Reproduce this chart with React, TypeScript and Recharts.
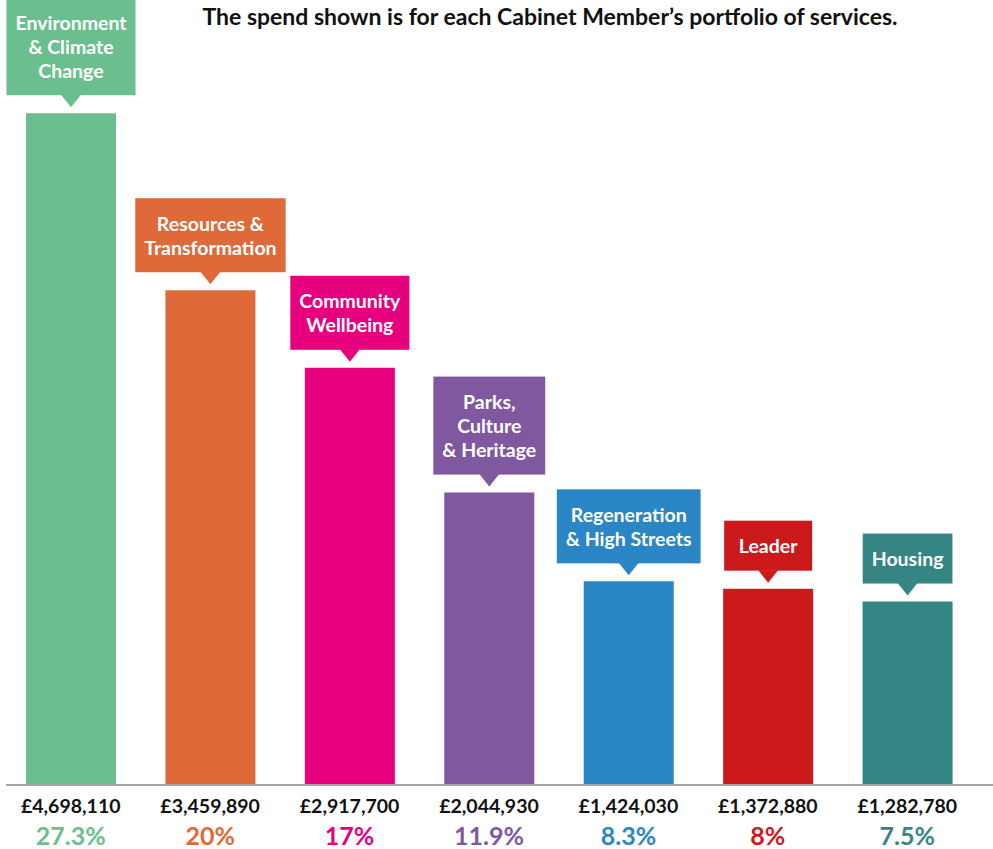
import React from 'react';
import { BarChart, Bar, XAxis, YAxis, Cell, LabelList } from 'recharts';

// portfolio names (line breaks as in the callouts)
const portfolios = [
  'Environment\n& Climate\nChange',
  'Resources &\nTransformation',
  'Community\nWellbeing',
  'Parks,\nCulture\n& Heritage',
  'Regeneration\n& High Streets',
  'Leader',
  'Housing',
];
const spend = [4698110, 3459890, 2917700, 2044930, 1424030, 1372880, 1282780];
const shares = ['27.3%', '20%', '17%', '11.9%', '8.3%', '8%', '7.5%'];
const colors = ['#6bbf8e', '#e0693a', '#e6007e', '#7f58a0', '#2a86c4', '#cc1a1c', '#358585'];

const data = portfolios.map((name, i) => ({ name, spend: spend[i] }));

const FONT = 'Lato, "Open Sans", sans-serif';
const LABEL_SIZE = 19.5;

let ctx: CanvasRenderingContext2D | null = null;
const measure = (s: string) => {
  if (!ctx) ctx = document.createElement('canvas').getContext('2d');
  if (!ctx) return s.length * 9.5;
  ctx.font = `700 ${LABEL_SIZE}px Lato`;
  return ctx.measureText(s).width;
};

const fmt = (v: number) => '£' + v.toLocaleString('en-GB');

const Callout = (props: any) => {
  const x = props.x ?? props.viewBox?.x;
  const y = props.y ?? props.viewBox?.y;
  const width = props.width ?? props.viewBox?.width;
  const index = props.index;
  const lines = portfolios[index].split('\n');
  const cx = x + width / 2;
  const boxW = Math.max(Math.max(...lines.map(measure)) + 18, 88);
  const boxH = lines.length * 24 + 26;
  const bottom = y - 18;
  const top = bottom - boxH;
  const color = colors[index];
  const midY = top + boxH / 2;
  return (
    <g>
      <rect x={cx - boxW / 2} y={top} width={boxW} height={boxH} fill={color} />
      <path d={`M${cx - 10},${bottom - 0.5} L${cx + 10},${bottom - 0.5} L${cx},${y - 6} Z`} fill={color} />
      {lines.map((l, i) => (
        <text
          key={i}
          x={cx}
          y={midY + (i - (lines.length - 1) / 2) * 24}
          textAnchor="middle"
          dominantBaseline="central"
          fill="#fff"
          fontFamily={FONT}
          fontWeight={700}
          fontSize={LABEL_SIZE}
        >
          {l}
        </text>
      ))}
    </g>
  );
};

const AmountTick = (props: any) => {
  const { x, y, payload } = props;
  const i = payload.index;
  return (
    <g>
      <text x={x} y={y + 28} textAnchor="middle" fill="#111" fontFamily={FONT} fontWeight={700} fontSize={19.5}>
        {fmt(spend[i])}
      </text>
      <text x={x} y={y + 60} textAnchor="middle" fill={colors[i]} fontFamily={FONT} fontWeight={700} fontSize={25}>
        {shares[i]}
      </text>
    </g>
  );
};

export default function App() {
  return (
    <div style={{ position: 'absolute', left: 0, top: 0, width: 993, height: 849, background: '#fff' }}>
      <div
        style={{
          position: 'absolute',
          left: 100,
          top: 2,
          width: 900,
          textAlign: 'center',
          fontFamily: FONT,
          fontWeight: 700,
          fontSize: 23,
          lineHeight: '28px',
          color: '#111',
          whiteSpace: 'nowrap',
        }}
      >
        The spend shown is for each Cabinet Member’s portfolio of services.
      </div>
      <BarChart width={993} height={849} data={data} margin={{ top: 70, right: 16, left: 1, bottom: 0 }}>
        <XAxis
          dataKey="name"
          height={64}
          axisLine={false}
          tickLine={false}
          tickSize={0}
          tickMargin={0}
          interval={0}
          tick={<AmountTick />}
        />
        <YAxis hide domain={[0, 5000000]} />
        <Bar dataKey="spend" barSize={90} isAnimationActive={false}>
          {data.map((d, i) => (
            <Cell key={d.name} fill={colors[i]} />
          ))}
          <LabelList dataKey="name" content={<Callout />} />
        </Bar>
      </BarChart>
      <div style={{ position: 'absolute', left: 6, top: 784, width: 987, height: 2, background: '#a6a6a6' }} />
    </div>
  );
}
